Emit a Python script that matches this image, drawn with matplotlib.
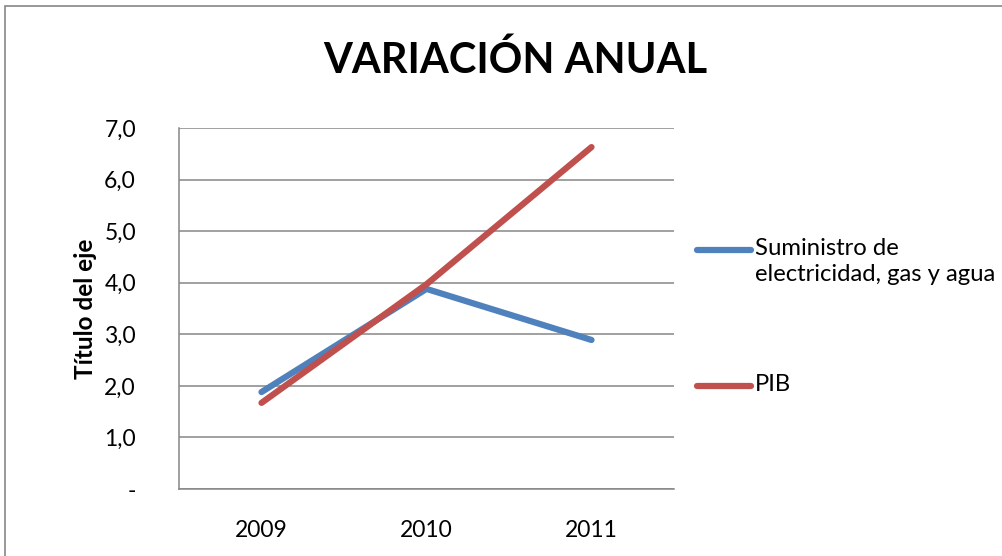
import matplotlib.pyplot as plt
from matplotlib.patches import Rectangle
from matplotlib.lines import Line2D
from matplotlib.ticker import FixedLocator, FixedFormatter

years = ['2009', '2010', '2011']
suministro = [1.88, 3.88, 2.89]
pib = [1.67, 3.97, 6.63]
y_ticks = [0, 1, 2, 3, 4, 5, 6, 7]
y_labels = ['-', '1,0', '2,0', '3,0', '4,0', '5,0', '6,0', '7,0']

plt.rcParams['font.family'] = ['Lato', 'DejaVu Sans']

W, H = 1003, 556
fig = plt.figure(figsize=(W / 100, H / 100), dpi=100)
ax = fig.add_axes([179 / W, 1 - 489 / H, 495 / W, 361 / H])

# outer chart-area border (right side falls outside the picture)
fig.patches.append(Rectangle((5 / W, -0.05), 1.1, 1 - 6 / H + 0.05,
                             transform=fig.transFigure, fill=False,
                             edgecolor='#868686', linewidth=1.2))

blue = '#4F81BD'
red = '#C0504D'
x = range(len(years))
ax.plot(x, suministro, color=blue, linewidth=4.5, solid_capstyle='round',
        solid_joinstyle='round')
ax.plot(x, pib, color=red, linewidth=4.5, solid_capstyle='round',
        solid_joinstyle='round')

ax.set_xlim(-0.5, 2.5)
ax.set_ylim(0, 7)
ax.set_xticks(list(x))
ax.set_xticklabels(years)
ax.yaxis.set_major_locator(FixedLocator(y_ticks))
ax.yaxis.set_major_formatter(FixedFormatter(y_labels))
ax.tick_params(axis='both', length=0, labelsize=16.5)
ax.tick_params(axis='x', pad=22)
ax.tick_params(axis='y', pad=31)

ax.grid(axis='y', color='#868686', linewidth=1.1)
ax.set_axisbelow(True)
for side in ['top', 'right']:
    ax.spines[side].set_visible(False)
for side in ['left', 'bottom']:
    ax.spines[side].set_color('#868686')
    ax.spines[side].set_linewidth(1.1)

ax.set_ylabel('Título del eje', fontsize=17.5, fontweight='bold')
ax.yaxis.set_label_coords((97 - 179) / 495, 0.5)
fig.text(515 / W, 1 - 60 / H, 'VARIACIÓN ANUAL', ha='center', va='center',
         fontsize=30, fontweight='bold')

# legend keys and labels placed like the original
legend_items = [('Suministro de\nelectricidad, gas y agua', blue, 250),
                ('PIB', red, 386)]
for label, color, ypix in legend_items:
    fig.add_artist(Line2D([697 / W, 751 / W], [1 - ypix / H] * 2,
                          transform=fig.transFigure, color=color,
                          linewidth=4.5, solid_capstyle='round'))
    fig.text(755 / W, 1 - (ypix - 12) / H, label, ha='left', va='top',
             fontsize=17.2, linespacing=1.3)

fig.savefig('out.png', dpi=100)
